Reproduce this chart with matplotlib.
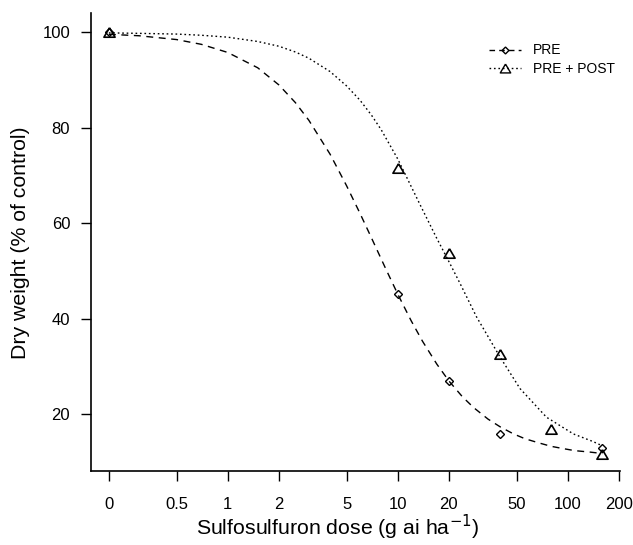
import matplotlib
matplotlib.use("Agg")
import matplotlib.pyplot as plt
from matplotlib.lines import Line2D

plt.rcParams['font.family'] = ['Liberation Sans', 'DejaVu Sans']

# Position on the log axis where dose 0 is drawn
ZERO_POS = 0.2

# Observed means
pre_dose = [0, 10, 20, 40, 160]
pre_val = [100.0, 45.2, 27.0, 15.8, 13.0]
post_dose = [0, 10, 20, 40, 80, 160]
post_val = [100.0, 71.7, 53.7, 32.6, 16.9, 11.8]

# Fitted curves
pre_curve_dose = [0, 0.3, 0.5, 0.7, 1, 1.5, 2, 2.5, 3, 4, 5, 6, 7, 8.5, 10, 12, 14, 17, 20,
                  24, 28, 34, 40, 48, 56, 68, 80, 95, 110, 135, 160]
pre_curve_val = [99.6, 99.3, 98.5, 97.5, 95.8, 92.6, 89.0, 85.3, 81.6, 74.5, 67.9, 62.1, 57.0,
                 50.5, 45.2, 39.6, 35.3, 30.5, 27.0, 23.7, 21.4, 19.0, 17.4, 15.9, 14.9, 14.0,
                 13.3, 12.8, 12.4, 12.1, 11.8]
post_curve_dose = [0, 0.3, 0.5, 0.7, 1, 1.5, 2, 2.5, 3, 4, 5, 6, 7, 8, 10, 13.5, 16.9, 20,
                   23.2, 29.1, 40, 52.4, 75, 108, 141, 160]
post_curve_val = [99.9, 99.8, 99.65, 99.4, 99.0, 98.1, 97.1, 95.9, 94.6, 91.8, 88.8, 85.8, 82.7,
                  79.6, 73.5, 64.0, 57.0, 52.0, 47.5, 40.4, 32.0, 25.4, 19.4, 15.9, 14.3, 13.4]

xticks = [0, 0.5, 1, 2, 5, 10, 20, 50, 100, 200]
xtick_labels = ['0', '0.5', '1', '2', '5', '10', '20', '50', '100', '200']
yticks = [20, 40, 60, 80, 100]


def pos(d):
    return [ZERO_POS if v == 0 else v for v in d]


W, H = 633, 545
fig = plt.figure(figsize=(W / 100, H / 100), dpi=100)
ax = fig.add_axes([91 / W, 1 - 470.7 / H, 529 / W, 457.4 / H])

tri = [(0, 0.85), (-1, -0.85), (1, -0.85), (0, 0.85)]

ax.plot(pos(pre_curve_dose), pre_curve_val, color='black', lw=1.0, linestyle=(0, (5, 4)))
ax.plot(pos(post_curve_dose), post_curve_val, color='black', lw=1.0, linestyle=(0, (1.2, 2)))
ax.plot(pos(pre_dose), pre_val, linestyle='none', marker='D', ms=3.8, mfc='none', mec='black', mew=1.0)
ax.plot(pos(post_dose), post_val, linestyle='none', marker=tri, ms=8, mfc='none', mec='black', mew=1.2)

ax.set_xscale('log')
ax.set_xlim(0.157, 203)
ax.set_ylim(8.2, 104)
ax.set_xticks(pos(xticks))
ax.set_xticklabels(xtick_labels)
ax.minorticks_off()
ax.set_yticks(yticks)
ax.tick_params(axis='x', length=7, width=1.0, pad=12, labelsize=12)
ax.tick_params(axis='y', length=7, width=1.0, pad=8, labelsize=12)
for s in ['top', 'right']:
    ax.spines[s].set_visible(False)
for s in ['left', 'bottom']:
    ax.spines[s].set_linewidth(1.2)

fig.text(338 / W, 1 - 527 / H, 'Sulfosulfuron dose (g ai ha$^{-1}$)', fontsize=15.3,
         ha='center', va='center')
fig.text(21 / W, 1 - 243 / H, 'Dry weight (% of control)', fontsize=15.3,
         ha='center', va='center', rotation=90)

handles = [
    Line2D([], [], color='black', lw=1.0, linestyle=(0, (4, 3)), marker='D', ms=3.5, mfc='none', mec='black'),
    Line2D([], [], color='black', lw=1.0, linestyle=(0, (1.2, 2)), marker=tri, ms=7.5, mfc='none', mec='black'),
]
fig.legend(handles, ['PRE', 'PRE + POST'], loc='upper left',
           bbox_to_anchor=(489 / W, 1 - 43.5 / H), borderpad=0, borderaxespad=0,
           frameon=False, fontsize=10, handlelength=2.3, handletextpad=0.85, labelspacing=0.35)

fig.savefig('out.png', dpi=100)
